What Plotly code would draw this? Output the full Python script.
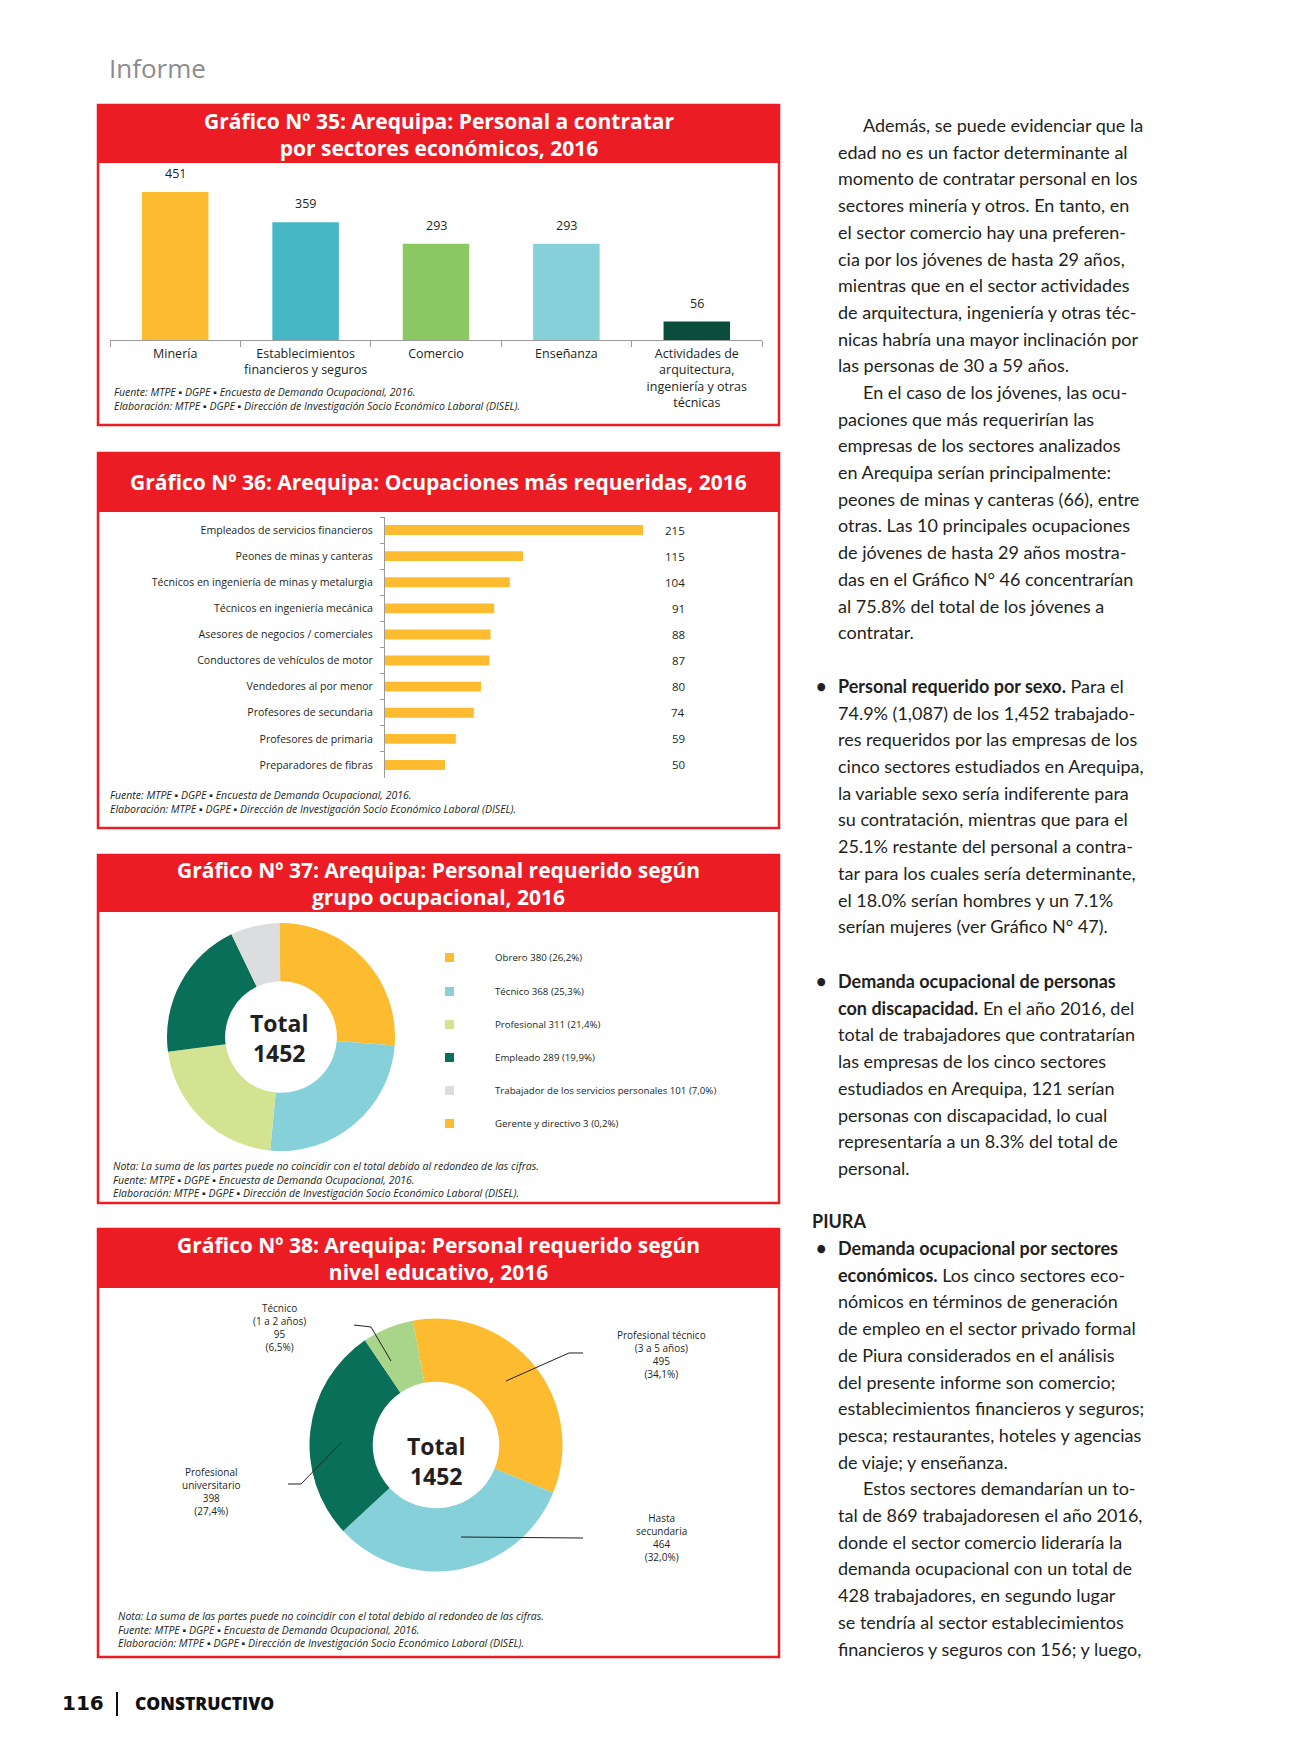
import plotly.graph_objects as go

W, H = 1291, 1763
def px(x): return x / W
def py(y): return 1 - y / H

RED = "#EC1C24"
INK = "#231F20"
BODY = "Lato"
TITLE = "Open Sans"
COND = "Open Sans"

try:
    go.layout.annotation.Font(stretch="condensed")
    HAS_STRETCH = True
except Exception:
    HAS_STRETCH = False

def cf(size, color=INK, family=COND, **kw):
    d = dict(family=family, size=size, color=color, **kw)
    if HAS_STRETCH:
        d["stretch"] = "condensed"
    return d

# ---------------- data ----------------
sectors = ["Minería", "Establecimientos<br>financieros y seguros", "Comercio", "Enseñanza",
           "Actividades de<br>arquitectura,<br>ingeniería y otras<br>técnicas"]
sector_values = [451, 359, 293, 293, 56]
sector_colors = ["#FDBB30", "#45B7C6", "#8BC862", "#86D0D9", "#0B4D3C"]

occupations = ["Empleados de servicios financieros", "Peones de minas y canteras",
               "Técnicos en ingeniería de minas y metalurgia", "Técnicos en ingeniería mecánica",
               "Asesores de negocios / comerciales", "Conductores de vehículos de motor",
               "Vendedores al por menor", "Profesores de secundaria", "Profesores de primaria",
               "Preparadores de fibras"]
occupation_values = [215, 115, 104, 91, 88, 87, 80, 74, 59, 50]
occupation_color = "#FDBB30"

groups = ["Obrero", "Técnico", "Profesional", "Empleado",
          "Trabajador de los servicios personales", "Gerente y directivo"]
group_values = [380, 368, 311, 289, 101, 3]
group_pcts = ["26,2%", "25,3%", "21,4%", "19,9%", "7,0%", "0,2%"]
group_colors = ["#FDBB30", "#86D0D9", "#D3E392", "#0A6F58", "#DCDDDE", "#FDBB30"]

levels = ["Profesional técnico<br>(3 a 5 años)", "Hasta<br>secundaria",
          "Profesional<br>universitario", "Técnico<br>(1 a 2 años)"]
level_values = [495, 464, 398, 95]
level_pcts = ["34,1%", "32,0%", "27,4%", "6,5%"]
level_colors = ["#FDBB30", "#86D0D9", "#0A6F58", "#A9D58B"]

total = 1452

fig = go.Figure()
shapes = []
ann = []

def box(y0, y1, yh, title):
    shapes.append(dict(type="rect", xref="paper", yref="paper", x0=px(98), x1=px(779),
                       y0=py(y1), y1=py(y0), line=dict(color=RED, width=2.5), fillcolor="white", layer="below"))
    shapes.append(dict(type="rect", xref="paper", yref="paper", x0=px(98), x1=px(779),
                       y0=py(yh), y1=py(y0), line=dict(width=0), fillcolor=RED, layer="below"))
    ann.append(dict(text=title, x=px(438.5), y=py((y0 + yh) / 2), xref="paper", yref="paper",
                    showarrow=False, xanchor="center", yanchor="middle", align="center",
                    font=dict(family=TITLE, size=21, color="white", weight=700)))

def notes(lines, x, y0, dy=13.6):
    for i, t in enumerate(lines):
        ann.append(dict(text="<i>" + t + "</i>", x=px(x), y=py(y0 + i * dy), xref="paper", yref="paper",
                        showarrow=False, xanchor="left", yanchor="middle", font=cf(10.5)))

FUENTE = "Fuente: MTPE ▪ DGPE ▪ Encuesta de Demanda Ocupacional, 2016."
ELAB = "Elaboración: MTPE ▪ DGPE ▪ Dirección de Investigación Socio Económico Laboral (DISEL)."
NOTA = "Nota: La suma de las partes puede no coincidir con el total debido al redondeo de las cifras."

# header "Informe"
ann.append(dict(text="Informe", x=px(107), y=py(68), xref="paper", yref="paper", showarrow=False,
                xanchor="left", yanchor="middle", font=cf(26, color="#8C8C8C")))

# ---------------- Chart 35 ----------------
box(105, 425, 163, "Gráfico Nº 35: Arequipa: Personal a contratar<br>por sectores económicos, 2016")
k1 = 148 / 451
ytop1, ybot1 = 172, 340
fig.add_trace(go.Bar(x=sectors, y=sector_values, marker=dict(color=sector_colors, line=dict(width=0)),
                     width=0.51, xaxis="x", yaxis="y", showlegend=False, hoverinfo="y"))
for s, v in zip(sectors, sector_values):
    ann.append(dict(text=str(v), x=s, y=v, xref="x", yref="y", showarrow=False, yanchor="bottom",
                    yshift=8, font=cf(12.5)))
notes([FUENTE, ELAB], 112, 392)

# ---------------- Chart 36 ----------------
box(453, 828, 512, "Gráfico Nº 36: Arequipa: Ocupaciones más requeridas, 2016")
k2 = 258 / 215
x0_2, x1_2 = 385, 720
fig.add_trace(go.Bar(y=occupations, x=occupation_values, orientation="h",
                     marker=dict(color=occupation_color, line=dict(width=0)), width=0.38,
                     xaxis="x2", yaxis="y2", showlegend=False, hoverinfo="x+y"))
for o, v in zip(occupations, occupation_values):
    ann.append(dict(text=str(v), x=px(687), y=o, xref="paper", yref="y2", showarrow=False,
                    xanchor="right", yanchor="middle", font=cf(11.5)))
notes([FUENTE, ELAB], 108, 795)

# ---------------- Chart 37 ----------------
box(855, 1203, 912, "Gráfico Nº 37: Arequipa: Personal requerido según<br>grupo ocupacional, 2016")
cx, cy, r = 281, 1037, 114
fig.add_trace(go.Pie(labels=groups, values=group_values, sort=False, direction="clockwise", rotation=0,
                     hole=0.49, textinfo="none", showlegend=False,
                     marker=dict(colors=group_colors, line=dict(width=0)),
                     domain=dict(x=[px(cx - r), px(cx + r)], y=[py(cy + r), py(cy - r)])))
ann.append(dict(text="<b>Total<br>" + str(total) + "</b>", x=px(cx - 2), y=py(1038), xref="paper", yref="paper",
                showarrow=False, xanchor="center", yanchor="middle", font=cf(23)))
leg_y = [957, 991, 1024, 1057, 1090, 1123]
for g, v, p, c, ly in zip(groups, group_values, group_pcts, group_colors, leg_y):
    shapes.append(dict(type="rect", xref="paper", yref="paper", x0=px(445), x1=px(454),
                       y0=py(ly + 5), y1=py(ly - 4), fillcolor=c, line=dict(width=0)))
    ann.append(dict(text=f"{g} {v} ({p})", x=px(493), y=py(ly), xref="paper", yref="paper",
                    showarrow=False, xanchor="left", yanchor="middle", font=cf(9.7)))
notes([NOTA, FUENTE, ELAB], 111, 1166)

# ---------------- Chart 38 ----------------
box(1229, 1657, 1288, "Gráfico Nº 38: Arequipa: Personal requerido según<br>nivel educativo, 2016")
cx2, cy2, r2 = 436, 1445, 126.5
fig.add_trace(go.Pie(labels=levels, values=level_values, sort=False, direction="clockwise", rotation=-10.6,
                     hole=0.5, textinfo="none", showlegend=False,
                     marker=dict(colors=level_colors, line=dict(width=0)),
                     domain=dict(x=[px(cx2 - r2), px(cx2 + r2)], y=[py(cy2 + r2), py(cy2 - r2)])))
ann.append(dict(text="<b>Total<br>" + str(total) + "</b>", x=px(cx2), y=py(1461), xref="paper", yref="paper",
                showarrow=False, xanchor="center", yanchor="middle", font=cf(23)))
label_pos = [(661, 1354), (661, 1537), (211, 1491), (279, 1327)]
leaders = [[(583, 1353), (569, 1353), (506, 1381)],
           [(583, 1538), (461, 1537)],
           [(288, 1484), (301, 1484), (341, 1443)],
           [(354, 1325), (371, 1327), (391, 1361)]]
for lab, v, p, (lx, ly), pts in zip(levels, level_values, level_pcts, label_pos, leaders):
    ann.append(dict(text=f"{lab}<br>{v}<br>({p})", x=px(lx), y=py(ly), xref="paper", yref="paper",
                    showarrow=False, xanchor="center", yanchor="middle", align="center", font=cf(10)))
    path = "M " + " L ".join(f"{px(a):.5f},{py(b):.5f}" for a, b in pts)
    shapes.append(dict(type="path", xref="paper", yref="paper", path=path,
                       line=dict(color=INK, width=1)))
notes([NOTA, FUENTE, ELAB], 116, 1616)

# ---------------- Text column ----------------
DY = 26.7
def para(lines, y0, first_indent=False, bullet=False, x=836):
    for i, t in enumerate(lines):
        xx = x
        if i == 0 and first_indent:
            xx = 861
        ann.append(dict(text=t, x=px(xx), y=py(y0 + i * DY), xref="paper", yref="paper",
                        showarrow=False, xanchor="left", yanchor="middle",
                        font=dict(family=BODY, size=18, color=INK)))
    if bullet:
        ann.append(dict(text="<b>•</b>", x=px(814), y=py(y0), xref="paper", yref="paper",
                        showarrow=False, xanchor="left", yanchor="middle",
                        font=dict(family=BODY, size=18, color=INK)))

p1 = ["Además, se puede evidenciar que la",
      "edad no es un factor determinante al",
      "momento de contratar personal en los",
      "sectores minería y otros. En tanto, en",
      "el sector comercio hay una preferen-",
      "cia por los jóvenes de hasta 29 años,",
      "mientras que en el sector actividades",
      "de arquitectura, ingeniería y otras téc-",
      "nicas habría una mayor inclinación por",
      "las personas de 30 a 59 años."]
p2 = ["En el caso de los jóvenes, las ocu-",
      "paciones que más requerirían las",
      "empresas de los sectores analizados",
      "en Arequipa serían principalmente:",
      "peones de minas y canteras (66), entre",
      "otras. Las 10 principales ocupaciones",
      "de jóvenes de hasta 29 años mostra-",
      "das en el Gráfico N° 46 concentrarían",
      "al 75.8% del total de los jóvenes a",
      "contratar."]
p3 = ["<b>Personal requerido por sexo.</b> Para el",
      "74.9% (1,087) de los 1,452 trabajado-",
      "res requeridos por las empresas de los",
      "cinco sectores estudiados en Arequipa,",
      "la variable sexo sería indiferente para",
      "su contratación, mientras que para el",
      "25.1% restante del personal a contra-",
      "tar para los cuales sería determinante,",
      "el 18.0% serían hombres y un 7.1%",
      "serían mujeres (ver Gráfico N° 47)."]
p4 = ["<b>Demanda ocupacional de personas</b>",
      "<b>con discapacidad.</b> En el año 2016, del",
      "total de trabajadores que contratarían",
      "las empresas de los cinco sectores",
      "estudiados en Arequipa, 121 serían",
      "personas con discapacidad, lo cual",
      "representaría a un 8.3% del total de",
      "personal."]
p5 = ["<b>Demanda ocupacional por sectores</b>",
      "<b>económicos.</b> Los cinco sectores eco-",
      "nómicos en términos de generación",
      "de empleo en el sector privado formal",
      "de Piura considerados en el análisis",
      "del presente informe son comercio;",
      "establecimientos financieros y seguros;",
      "pesca; restaurantes, hoteles y agencias",
      "de viaje; y enseñanza."]
p6 = ["Estos sectores demandarían un to-",
      "tal de 869 trabajadoresen el año 2016,",
      "donde el sector comercio lideraría la",
      "demanda ocupacional con un total de",
      "428 trabajadores, en segundo lugar",
      "se tendría al sector establecimientos",
      "financieros y seguros con 156; y luego,"]

para(p1, 125, first_indent=True)
para(p2, 125 + 10 * DY, first_indent=True)
para(p3, 686, bullet=True)
para(p4, 981, bullet=True)
ann.append(dict(text="<b>PIURA</b>", x=px(810), y=py(1221), xref="paper", yref="paper", showarrow=False,
                xanchor="left", yanchor="middle", font=dict(family=BODY, size=18, color=INK)))
para(p5, 1248, bullet=True)
para(p6, 1248 + 9 * DY, first_indent=True)

# footer
ann.append(dict(text="<b>116</b>", x=px(60), y=py(1703), xref="paper", yref="paper", showarrow=False,
                xanchor="left", yanchor="middle", font=dict(family="DejaVu Sans", size=20, color="#111")))
shapes.append(dict(type="line", xref="paper", yref="paper", x0=px(117), x1=px(117), y0=py(1692), y1=py(1716),
                   line=dict(color="#111", width=2)))
ann.append(dict(text="CONSTRUCTIVO", x=px(133), y=py(1703), xref="paper", yref="paper", showarrow=False,
                xanchor="left", yanchor="middle", font=cf(17.5, color="#111", weight=800)))

fig.update_layout(
    width=W, height=H, margin=dict(l=0, r=0, t=0, b=0, pad=0), autosize=False,
    paper_bgcolor="white", plot_bgcolor="rgba(0,0,0,0)",
    bargap=0.49,
    xaxis=dict(domain=[px(110), px(762)], range=[-0.5, 4.5], anchor="y", automargin=False,
               showline=True, linecolor="#9A9A9A", linewidth=1, ticks="outside", ticklen=6,
               tickcolor="#9A9A9A", tickson="boundaries", showgrid=False, zeroline=False, tickangle=0,
               tickfont=cf(12.5), ticklabelstandoff=2, fixedrange=True),
    yaxis=dict(domain=[py(ybot1), py(ytop1)], range=[0, (ybot1 - ytop1) / k1], anchor="x",
               visible=False, showgrid=False, zeroline=False, fixedrange=True, automargin=False),
    xaxis2=dict(domain=[px(x0_2), px(x1_2)], range=[0, (x1_2 - x0_2) / k2], anchor="y2",
                visible=False, showgrid=False, zeroline=False, fixedrange=True, automargin=False),
    yaxis2=dict(domain=[py(778), py(517)], range=[len(occupations) - 0.5, -0.5], anchor="x2",
                showline=True, linecolor="#9A9A9A", linewidth=1, ticks="outside", ticklen=4,
                tickcolor="#9A9A9A", tickson="boundaries", showgrid=False, zeroline=False, automargin=False,
                tickfont=cf(10.6), ticklabelstandoff=9, fixedrange=True),
    shapes=shapes, annotations=ann,
)

fig.write_html("out.html", post_script="document.body.style.margin='0';",
               config={"displayModeBar": False})
